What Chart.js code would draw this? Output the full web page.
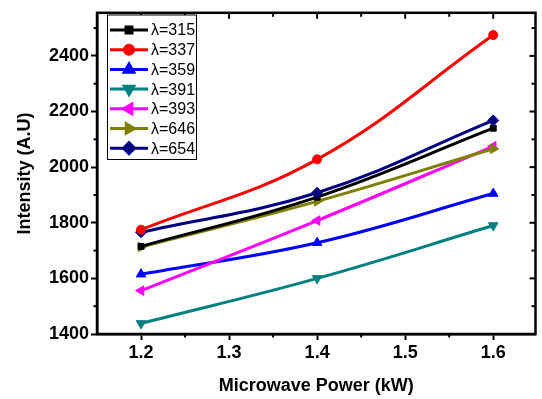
<!DOCTYPE html>
<html>
<head>
<meta charset="utf-8">
<script src="https://cdn.jsdelivr.net/npm/chart.js@4/dist/chart.umd.min.js"></script>
<style>
  html, body { margin: 0; padding: 0; background: #fff; }
  #wrap { width: 542px; height: 399px; position: relative; }
</style>
</head>
<body>
<div id="wrap"><canvas id="c" width="542" height="399"></canvas></div>
<script>
// ---- data ----
const power = [1.2, 1.4, 1.6];
const seriesNames = ['λ=315', 'λ=337', 'λ=359', 'λ=391', 'λ=393', 'λ=646', 'λ=654'];
const s315 = [1715, 1892, 2140];
const s337 = [1775, 2028, 2475];
const s359 = [1615, 1728, 1905];
const s391 = [1438, 1600, 1790];
const s393 = [1556, 1808, 2075];
const s646 = [1713, 1877, 2066];
const s654 = [1766, 1908, 2168];
const xTicks = [1.2, 1.3, 1.4, 1.5, 1.6];
const yTicks = [1400, 1600, 1800, 2000, 2200, 2400];

// ---- styles ----
const colors = ['#000000', '#ff0000', '#0000ff', '#008080', '#ff00ff', '#808000', '#000080'];
const pStyles = ['rect', 'circle', 'triangle', 'triangle', 'triangle', 'triangle', 'rectRot'];
const pRot = [0, 0, 0, 180, -90, 90, 0];
const pRad = [4.2, 4.5, 5.5, 5.5, 5.5, 5.5, 5.5];
const drawOrder = [3, 1, 6, 7, 5, 4, 2];
const values = [s315, s337, s359, s391, s393, s646, s654];
const FONT = "'Liberation Sans', Arial, sans-serif";

const datasets = values.map((vals, i) => ({
  label: seriesNames[i],
  data: vals.map((v, k) => ({ x: power[k], y: v })),
  borderColor: colors[i],
  backgroundColor: colors[i],
  borderWidth: 3,
  pointStyle: pStyles[i],
  rotation: pRot[i],
  pointRadius: pRad[i],
  pointBorderWidth: 1,
  tension: 0.4,
  order: drawOrder[i],
  fill: false
}));

function line(ctx, x1, y1, x2, y2) { ctx.beginPath(); ctx.moveTo(x1, y1); ctx.lineTo(x2, y2); ctx.stroke(); }

const framePlugin = {
  id: 'frame',
  afterDraw(chart) {
    const { ctx, chartArea: a, scales: { x, y } } = chart;
    ctx.save();
    ctx.strokeStyle = '#000';
    ctx.lineWidth = 2.5;
    ctx.strokeRect(a.left, a.top, a.right - a.left, a.bottom - a.top);
    ctx.lineWidth = 2;
    xTicks.forEach(v => { const px = x.getPixelForValue(v); line(ctx, px, a.top, px, a.top + 6); });
    for (let i = 0; i < xTicks.length - 1; i++) {
      const px = x.getPixelForValue((xTicks[i] + xTicks[i + 1]) / 2);
      line(ctx, px, a.bottom, px, a.bottom + 3.5);
      line(ctx, px, a.top, px, a.top + 4);
    }
    yTicks.forEach(v => { const py = y.getPixelForValue(v); line(ctx, a.right, py, a.right - 6, py); });
    for (let i = 0; i < yTicks.length; i++) {
      const mv = yTicks[i] + (yTicks[1] - yTicks[0]) / 2;
      const py = y.getPixelForValue(mv);
      if (py < a.top) continue;
      line(ctx, a.left, py, a.left - 3.5, py);
      line(ctx, a.right, py, a.right - 4, py);
    }
    // legend
    const lx = 107.5, ly = 15, lw = 89, lh = 144.5;
    ctx.fillStyle = '#fff';
    ctx.fillRect(lx, ly, lw, lh);
    ctx.lineWidth = 1;
    ctx.strokeStyle = '#000';
    ctx.strokeRect(lx, ly, lw, lh);
    ctx.font = '16px ' + FONT;
    ctx.textBaseline = 'middle';
    ctx.textAlign = 'left';
    chart.data.datasets.forEach((ds, i) => {
      const cy = 30 + i * 19.7;
      ctx.strokeStyle = ds.borderColor;
      ctx.lineWidth = 3;
      line(ctx, 110, cy, 148, cy);
      ctx.fillStyle = ds.backgroundColor;
      Chart.helpers.drawPoint(ctx, { pointStyle: ds.pointStyle, rotation: ds.rotation, radius: ds.pointRadius, borderWidth: 1 }, 129, cy);
      ctx.fillStyle = '#000';
      ctx.fillText(ds.label, 151, cy + 1);
    });
    ctx.restore();
  }
};

new Chart(document.getElementById('c'), {
  type: 'line',
  data: { datasets: datasets },
  options: {
    responsive: false,
    animation: false,
    layout: { padding: { left: 0, right: 2, top: 6.5, bottom: 0 } },
    plugins: { legend: { display: false }, tooltip: { enabled: false } },
    scales: {
      x: {
        type: 'linear',
        min: 1.15, max: 1.648,
        afterBuildTicks: s => { s.ticks = xTicks.map(v => ({ value: v })); },
        afterFit: s => { s.height = 65; },
        ticks: { font: { family: FONT, size: 18, weight: 'bold' }, color: '#000', padding: 2, maxRotation: 0,
                 callback: v => v.toFixed(1) },
        grid: { drawOnChartArea: false, drawTicks: true, tickLength: 6, tickWidth: 2, tickColor: '#000' },
        border: { display: true, color: '#000', width: 2.5 },
        title: { display: true, text: 'Microwave Power (kW)', color: '#000',
                 font: { family: FONT, size: 18, weight: 'bold' }, padding: { top: 0, bottom: 2 } }
      },
      y: {
        type: 'linear',
        min: 1400, max: 2555,
        afterBuildTicks: s => { s.ticks = yTicks.map(v => ({ value: v })); },
        afterFit: s => { s.width = 97; },
        ticks: { font: { family: FONT, size: 18, weight: 'bold' }, color: '#000', padding: 2,
                 callback: v => String(v) },
        grid: { drawOnChartArea: false, drawTicks: true, tickLength: 6, tickWidth: 2, tickColor: '#000' },
        border: { display: true, color: '#000', width: 2.5 },
        title: { display: true, text: 'Intensity (A.U)', color: '#000',
                 font: { family: FONT, size: 18, weight: 'bold' }, padding: { top: 14, bottom: 0 } }
      }
    }
  },
  plugins: [framePlugin]
});
</script>
</body>
</html>
